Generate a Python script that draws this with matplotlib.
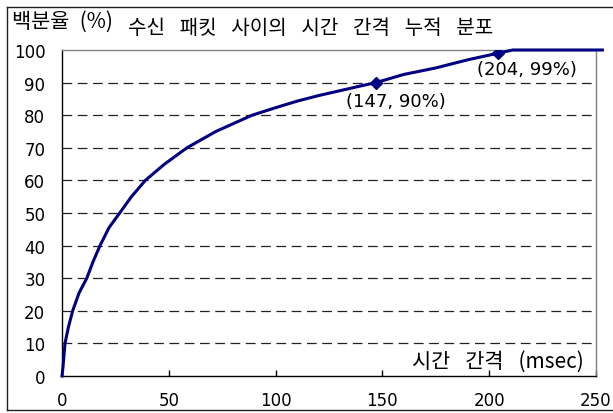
import matplotlib
matplotlib.use("Agg")
import matplotlib.pyplot as plt
from matplotlib.lines import Line2D

plt.rcParams['font.family'] = ['Noto Sans CJK KR', 'DejaVu Sans']
plt.rcParams['lines.scale_dashes'] = False

# Cumulative distribution of inter-arrival time between received packets
interval_ms = [0, 0.5, 1.4, 3, 5, 8, 11.6, 14.5, 17.8, 22, 27, 32.5, 39, 48, 58.5,
               72, 89, 100, 110, 120, 130, 140, 147, 160, 175, 190, 204, 211, 253]
cum_percent = [0, 3, 10, 15, 20, 25.5, 30, 35, 40, 45.5, 50, 55, 60, 65, 70,
               75, 80, 82.3, 84.3, 86, 87.5, 89, 90, 92.5, 94.5, 97, 99, 100, 100]

marked_x = [147, 204]
marked_y = [90, 99]

x_ticks = [0, 50, 100, 150, 200, 250]
y_ticks = [0, 10, 20, 30, 40, 50, 60, 70, 80, 90, 100]

WS = "\u2002 "  # wide word gap
title_text = WS.join(["수신", "패킷", "사이의", "시간", "간격", "누적", "분포"])
y_title = "백분율" + "\u2002" + "(%)"
x_title = "시간" + WS + "간격" + WS + "(msec)"

W, H = 613, 414
fig = plt.figure(figsize=(W / 100, H / 100), dpi=100)
ax = fig.add_axes([62 / W, 1 - 377 / H, (596 - 62) / W, (377 - 51) / H])

navy = '#000080'
ax.plot(interval_ms, cum_percent, color=navy, lw=2.2, clip_on=False,
        solid_joinstyle='round', zorder=3)
ax.plot(marked_x, marked_y, linestyle='none', marker='D', markersize=6.5,
        color=navy, zorder=4)

offsets = [(14.5, -13), (21, -11.5)]
for x, y, off in zip(marked_x, marked_y, offsets):
    ax.annotate(f"({x}, {y}%)", xy=(x, y), xytext=off, textcoords='offset points',
                ha='center', va='center', fontsize=13, family='DejaVu Sans')

ax.set_xlim(0, 250)
ax.set_ylim(0, 100)
ax.set_xticks(x_ticks)
ax.set_yticks(y_ticks)
ax.set_xticklabels([str(v) for v in x_ticks], family='DejaVu Sans', fontsize=12)
ax.set_yticklabels([str(v) for v in y_ticks], family='DejaVu Sans', fontsize=12)
ax.tick_params(axis='x', direction='in', length=4, width=1, pad=11, color='black')
ax.tick_params(axis='y', length=0, pad=12)

for v in y_ticks[1:-1]:
    ax.axhline(v, color='#222222', lw=0.9, linestyle=(0, (7, 4)), zorder=1)

ax.spines['left'].set_color('black')
ax.spines['bottom'].set_color('black')
ax.spines['top'].set_color('#808080')
ax.spines['right'].set_color('#808080')
for s in ax.spines.values():
    s.set_linewidth(1)

ax.text(584 / W, 1 - 362 / H, x_title, transform=fig.transFigure,
        ha='right', va='center', fontsize=15)
fig.text(12 / W, 1 - 22 / H, y_title, ha='left', va='center', fontsize=15)
fig.text(128 / W, 1 - 29 / H, title_text, ha='left', va='center', fontsize=14.5)

# outer chart border (left, top, bottom)
fx0, fy_top, fy_bot = 6.5 / W, 1 - 7.5 / H, 1 - 410.5 / H
for xs, ys in [([fx0, 1.01], [fy_top, fy_top]), ([fx0, fx0], [fy_top, fy_bot]),
               ([fx0, 1.01], [fy_bot, fy_bot])]:
    fig.add_artist(Line2D(xs, ys, transform=fig.transFigure, color='#202020', lw=1))

fig.savefig("out.png", dpi=100)
